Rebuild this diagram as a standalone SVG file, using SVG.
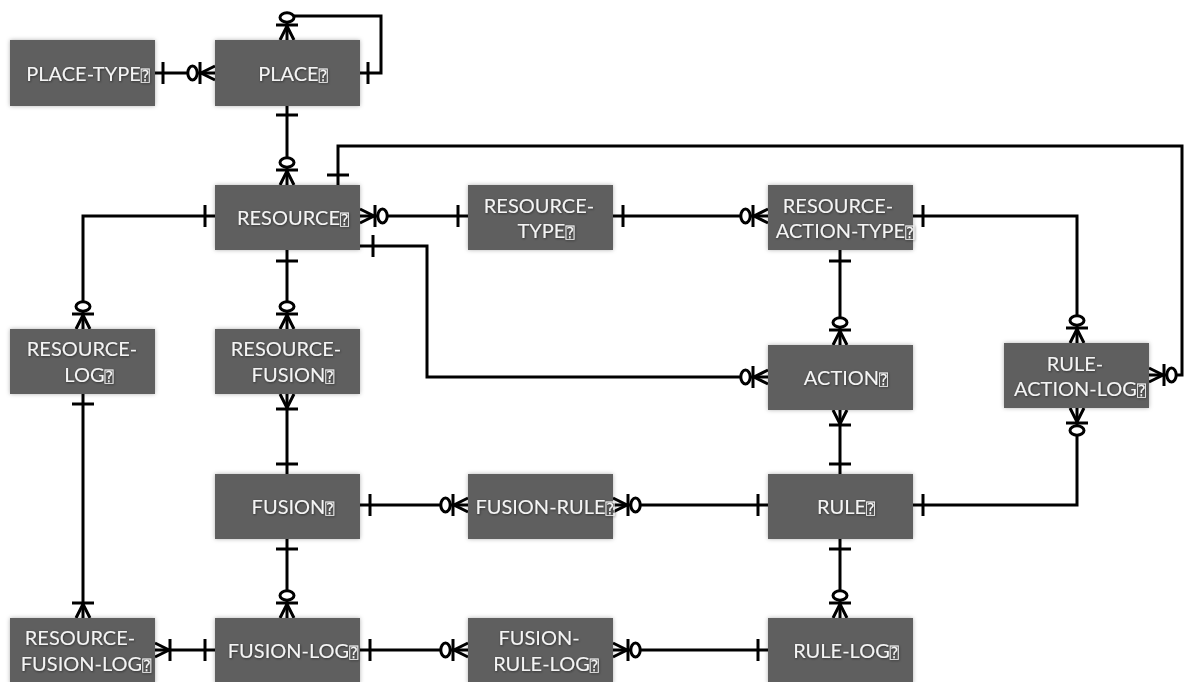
<svg xmlns="http://www.w3.org/2000/svg" xmlns:xlink="http://www.w3.org/1999/xlink" width="1186" height="682" viewBox="0 0 1186 682">
<style>
.box{fill:#5e5e5e;filter:url(#bshadow)}
.lbl{font-family:Lato,"Open Sans","Liberation Sans",sans-serif;font-size:20px;fill:#f4f4f4;text-anchor:middle;filter:url(#tshadow)}
.q{font-family:"DejaVu Sans","DejaVu Sans Mono",sans-serif;font-size:15px}
.conn path{fill:none;stroke:#000;stroke-width:3}
.mk line,.mk polyline{fill:none;stroke:#000;stroke-width:3}
.mk ellipse{fill:#fff;stroke:#000;stroke-width:3}
</style>
<defs>
<filter id="bshadow" x="-10%" y="-15%" width="120%" height="130%">
<feGaussianBlur in="SourceAlpha" stdDeviation="2.2" result="b"/>
<feFlood flood-color="#000" flood-opacity="0.3"/>
<feComposite in2="b" operator="in" result="s"/>
<feMerge><feMergeNode in="s"/><feMergeNode in="SourceGraphic"/></feMerge>
</filter>
<filter id="tshadow" x="-10%" y="-30%" width="120%" height="160%">
<feDropShadow dx="0.6" dy="0.8" stdDeviation="1.2" flood-color="#000" flood-opacity="0.55"/>
</filter>
<g id="one" class="mk"><line x1="10" y1="-11" x2="10" y2="11"/></g>
<g id="om" class="mk"><polyline points="0,-7 14,0 0,7"/><line x1="15" y1="-11" x2="15" y2="11"/></g>
<g id="zm" class="mk"><polyline points="0,-7 14,0 0,7"/><line x1="15" y1="-11" x2="15" y2="11"/><ellipse cx="22.5" cy="0" rx="4.7" ry="7"/></g>
</defs>
<rect width="1186" height="682" fill="#fff"/>

<g id="connectors" class="conn">
<path d="M155,73 H215"/>
<path d="M287,40 V16 H381 V73 H360"/>
<path d="M287,106 V185"/>
<path d="M338,185 V146 H1182 V375 H1149"/>
<path d="M215,216 H83 V329"/>
<path d="M360,216 H468"/>
<path d="M360,246 H427 V377 H768"/>
<path d="M613,216 H768"/>
<path d="M913,216 H1077 V343"/>
<path d="M840,250 V345"/>
<path d="M287,250 V329"/>
<path d="M83,394 V618"/>
<path d="M287,394 V474"/>
<path d="M840,410 V474"/>
<path d="M1077,408 V505 H913"/>
<path d="M360,505 H468"/>
<path d="M613,505 H768"/>
<path d="M287,539 V618"/>
<path d="M840,539 V618"/>
<path d="M155,650 H215"/>
<path d="M360,650 H468"/>
<path d="M613,650 H768"/>
<g id="ends">
<use href="#one" transform="translate(153,73)"/>
<use href="#zm" transform="translate(215,73) rotate(180)"/>
<use href="#zm" transform="translate(287,40) rotate(-90)"/>
<use href="#one" transform="translate(358,73)"/>
<use href="#one" transform="translate(287,105) rotate(90)"/>
<use href="#zm" transform="translate(287,185) rotate(-90)"/>
<use href="#one" transform="translate(338,185) rotate(-90)"/>
<use href="#zm" transform="translate(1149,375)"/>
<use href="#one" transform="translate(215,216) rotate(180)"/>
<use href="#zm" transform="translate(83,329) rotate(-90)"/>
<use href="#zm" transform="translate(360,216)"/>
<use href="#one" transform="translate(468,216) rotate(180)"/>
<use href="#one" transform="translate(363,246)"/>
<use href="#zm" transform="translate(768,377) rotate(180)"/>
<use href="#one" transform="translate(613,216)"/>
<use href="#zm" transform="translate(768,216) rotate(180)"/>
<use href="#one" transform="translate(913,216)"/>
<use href="#zm" transform="translate(1077,343) rotate(-90)"/>
<use href="#one" transform="translate(840,251) rotate(90)"/>
<use href="#zm" transform="translate(840,345) rotate(-90)"/>
<use href="#one" transform="translate(287,251) rotate(90)"/>
<use href="#zm" transform="translate(287,329) rotate(-90)"/>
<use href="#one" transform="translate(83,394) rotate(90)"/>
<use href="#om" transform="translate(83,618) rotate(-90)"/>
<use href="#om" transform="translate(287,394) rotate(90)"/>
<use href="#one" transform="translate(287,474) rotate(-90)"/>
<use href="#om" transform="translate(840,410) rotate(90)"/>
<use href="#one" transform="translate(840,474) rotate(-90)"/>
<use href="#zm" transform="translate(1077,408) rotate(90)"/>
<use href="#one" transform="translate(913,505)"/>
<use href="#one" transform="translate(360,505)"/>
<use href="#zm" transform="translate(468,505) rotate(180)"/>
<use href="#zm" transform="translate(613,505)"/>
<use href="#one" transform="translate(768,505) rotate(180)"/>
<use href="#one" transform="translate(287,539) rotate(90)"/>
<use href="#zm" transform="translate(287,618) rotate(-90)"/>
<use href="#one" transform="translate(840,539) rotate(90)"/>
<use href="#zm" transform="translate(840,618) rotate(-90)"/>
<use href="#om" transform="translate(155,650)"/>
<use href="#one" transform="translate(215,650) rotate(180)"/>
<use href="#one" transform="translate(360,650)"/>
<use href="#zm" transform="translate(468,650) rotate(180)"/>
<use href="#zm" transform="translate(613,650)"/>
<use href="#one" transform="translate(768,650) rotate(180)"/>
</g>
</g>

<g id="place-type"><rect class="box" x="10" y="40" width="145" height="66"/><text class="lbl" x="88" y="81">PLACE-TYPE<tspan class="q">⍰</tspan></text></g>
<g id="place"><rect class="box" x="215" y="40" width="145" height="66"/><text class="lbl" x="293" y="81">PLACE<tspan class="q">⍰</tspan></text></g>
<g id="resource"><rect class="box" x="215" y="185" width="145" height="65"/><text class="lbl" x="293" y="225">RESOURCE<tspan class="q">⍰</tspan></text></g>
<g id="resource-type"><rect class="box" x="468" y="185" width="145" height="65"/><text class="lbl" x="539" y="213">RESOURCE-</text><text class="lbl" x="546" y="238">TYPE<tspan class="q">⍰</tspan></text></g>
<g id="resource-action-type"><rect class="box" x="768" y="185" width="145" height="65"/><text class="lbl" x="838" y="213">RESOURCE-</text><text class="lbl" x="845" y="238">ACTION-TYPE<tspan class="q">⍰</tspan></text></g>
<g id="resource-log"><rect class="box" x="10" y="329" width="145" height="65"/><text class="lbl" x="82" y="356">RESOURCE-</text><text class="lbl" x="89" y="382">LOG<tspan class="q">⍰</tspan></text></g>
<g id="resource-fusion"><rect class="box" x="215" y="329" width="145" height="65"/><text class="lbl" x="286" y="356">RESOURCE-</text><text class="lbl" x="293" y="382">FUSION<tspan class="q">⍰</tspan></text></g>
<g id="action"><rect class="box" x="768" y="345" width="145" height="65"/><text class="lbl" x="846" y="385">ACTION<tspan class="q">⍰</tspan></text></g>
<g id="rule-action-log"><rect class="box" x="1004" y="343" width="145" height="65"/><text class="lbl" x="1075" y="371">RULE-</text><text class="lbl" x="1080" y="396">ACTION-LOG<tspan class="q">⍰</tspan></text></g>
<g id="fusion"><rect class="box" x="215" y="474" width="145" height="65"/><text class="lbl" x="293" y="514">FUSION<tspan class="q">⍰</tspan></text></g>
<g id="fusion-rule"><rect class="box" x="468" y="474" width="145" height="65"/><text class="lbl" x="545" y="514">FUSION-RULE<tspan class="q">⍰</tspan></text></g>
<g id="rule"><rect class="box" x="768" y="474" width="145" height="65"/><text class="lbl" x="846" y="514">RULE<tspan class="q">⍰</tspan></text></g>
<g id="resource-fusion-log"><rect class="box" x="10" y="618" width="145" height="66"/><text class="lbl" x="80" y="645">RESOURCE-</text><text class="lbl" x="86" y="671">FUSION-LOG<tspan class="q">⍰</tspan></text></g>
<g id="fusion-log"><rect class="box" x="215" y="618" width="145" height="66"/><text class="lbl" x="293" y="658">FUSION-LOG<tspan class="q">⍰</tspan></text></g>
<g id="fusion-rule-log"><rect class="box" x="468" y="618" width="145" height="66"/><text class="lbl" x="539" y="645">FUSION-</text><text class="lbl" x="546" y="671">RULE-LOG<tspan class="q">⍰</tspan></text></g>
<g id="rule-log"><rect class="box" x="768" y="618" width="145" height="66"/><text class="lbl" x="846" y="658">RULE-LOG<tspan class="q">⍰</tspan></text></g>
</svg>
